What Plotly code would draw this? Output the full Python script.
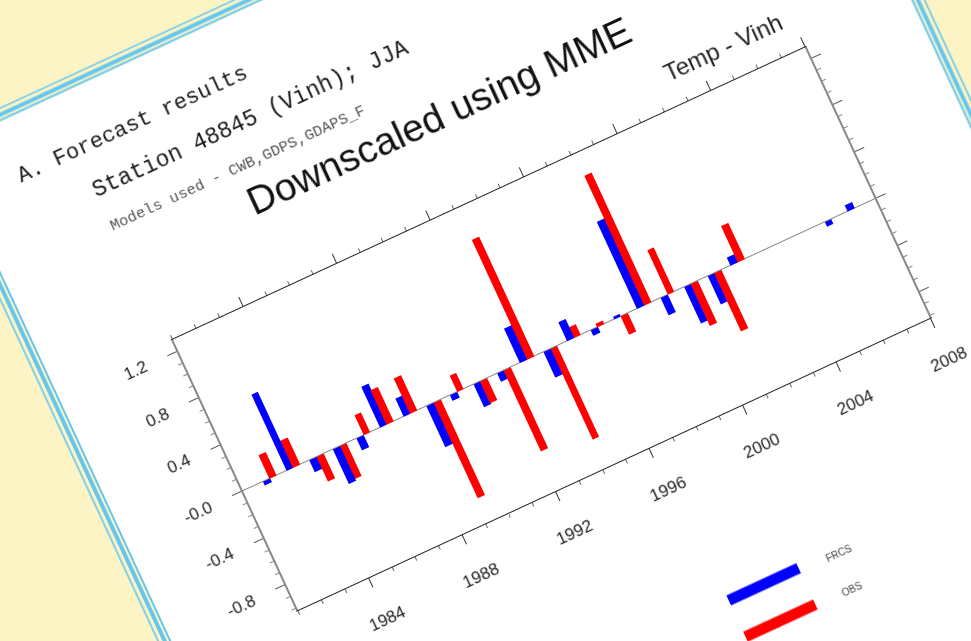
import plotly.graph_objects as go

# ---------------- data ----------------
pred_years = [1982, 1983, 1984, 1985, 1986, 1987, 1988, 1989, 1990, 1991, 1992,
              1993, 1994, 1995, 1996, 1997, 1998, 1999, 2000, 2001, 2002, 2006, 2007]
pred_vals = [-0.03, 0.65, -0.10, -0.30, -0.10, 0.35, 0.15, -0.35, -0.05, -0.20, -0.07,
             0.29, -0.22, 0.16, -0.05, 0.02, 0.74, -0.15, -0.31, -0.24, 0.07, -0.04, 0.05]
obs_years = [1982, 1983, 1984, 1985, 1986, 1987, 1988, 1989, 1990, 1991, 1992,
             1993, 1994, 1995, 1996, 1997, 1998, 1999, 2000, 2001, 2002]
obs_vals = [0.20, 0.23, -0.21, -0.28, 0.17, 0.29, 0.30, -0.82, 0.14, -0.19, -0.69,
            1.02, -0.78, 0.09, 0.03, -0.16, 1.11, 0.38, -0.36, -0.50, 0.31]
x_ticks = [1984, 1988, 1992, 1996, 2000, 2004, 2008]
y_ticks = [-0.8, -0.4, 0.0, 0.4, 0.8, 1.2]
y_ticktext = ["-0.8", "-0.4", "-0.0", "0.4", "0.8", "1.2"]
legend_names = ["FRCS", "OBS"]

# ---------------- geometry (unrotated page frame, px) ----------------
W, H = 1220, 1150
L, T = 310, 422
PW, PH = 696, 298
R = W - L - PW
B = H - T - PH
ANGLE = 24.8                    # page is turned counter-clockwise
SCREEN_X0, SCREEN_Y0 = 298.3, 610.0   # where the plot's bottom-left corner lands

YELLOW = "#fcf4c4"
SKY = "#66c6f0"
BLUE = "#0000ff"
RED = "#ff0000"


def px(u):
    return u / PW


def py(v):
    return -v / PH


fig = go.Figure()
fig.add_trace(go.Bar(x=pred_years, y=pred_vals, name=legend_names[0],
                     marker=dict(color=BLUE, line=dict(width=0)),
                     width=0.3, offset=-0.15, showlegend=False))
fig.add_trace(go.Bar(x=obs_years, y=obs_vals, name=legend_names[1],
                     marker=dict(color=RED, line=dict(width=0)),
                     width=0.3, offset=0.14, showlegend=False))

shapes = []
# the white slide page
PAGE_L, PAGE_R, PAGE_T, PAGE_B = -128.0, 812.6, -568.5, 700.0
shapes.append(dict(type="rect", xref="paper", yref="paper", layer="below",
                   x0=px(PAGE_L), x1=px(PAGE_R), y0=py(PAGE_B), y1=py(PAGE_T),
                   fillcolor="white", line=dict(width=0)))
for off, w in [(1.0, 2), (6.0, 4), (12.0, 1.6)]:
    shapes.append(dict(type="rect", xref="paper", yref="paper", layer="below",
                       x0=px(PAGE_L - off), x1=px(PAGE_R + off),
                       y0=py(PAGE_B + off), y1=py(PAGE_T - off),
                       fillcolor="rgba(0,0,0,0)", line=dict(color=SKY, width=w)))
# legend swatches
shapes.append(dict(type="line", xref="paper", yref="paper",
                   x0=px(395), x1=px(472), y0=py(172), y1=py(172),
                   line=dict(color=BLUE, width=11)))
shapes.append(dict(type="line", xref="paper", yref="paper",
                   x0=px(395), x1=px(472), y0=py(212), y1=py(212),
                   line=dict(color=RED, width=11)))

ann = []
def text(t, u, v_center, size, family, color, anchor="left"):
    ann.append(dict(text=t, xref="paper", yref="paper", x=px(u), y=py(v_center),
                    xanchor=anchor, yanchor="middle", showarrow=False,
                    font=dict(size=size, family=family, color=color)))

MONO = "Liberation Mono"
SANS = "Liberation Sans, Arial, sans-serif"
text("A. Forecast results", -74, -501.5 - 0.35 * 22, 22, MONO, "#1a1a1a")
text("Station 48845 (Vinh); JJA", -12.4, -456.5 - 0.35 * 23, 23, MONO, "#1a1a1a")
text("Models used - CWB,GDPS,GDAPS_F", -11.3, -420.9 - 0.35 * 15.5, 15.5, MONO, "#555")
text("Downscaled using MME", 335, -376 - 0.35 * 39, 39, SANS, "#111", anchor="center")
text("Temp - Vinh", 688, -324 - 0.35 * 24, 24, SANS, "#222", anchor="right")
text(legend_names[0], 499, 175, 10, SANS, "#444")
text(legend_names[1], 499, 213.5, 10, SANS, "#444")

fig.update_layout(
    width=W, height=H, autosize=False,
    margin=dict(l=L, r=R, t=T, b=B, pad=0),
    paper_bgcolor=YELLOW, plot_bgcolor="rgba(0,0,0,0)",
    barmode="overlay", bargap=0,
    font=dict(family=SANS, color="#222"),
    shapes=shapes, annotations=ann, showlegend=False,
)
fig.update_xaxes(range=[1981, 2008], tickvals=x_ticks, showgrid=False, zeroline=False,
                 showline=True, linecolor="#222", linewidth=1, mirror="ticks",
                 ticks="outside", ticklen=10, tickwidth=1, tickcolor="#333",
                 minor=dict(dtick=1, tick0=1981, ticks="outside", ticklen=4, tickcolor="#666"),
                 tickfont=dict(size=17, color="#222"), ticklabelstandoff=20)
fig.update_yaxes(range=[-1.02, 1.295], tickvals=y_ticks, ticktext=y_ticktext,
                 showgrid=False, zeroline=True, zerolinecolor="#888", zerolinewidth=1,
                 showline=True, linecolor="#888", linewidth=1.5, mirror="ticks",
                 ticks="outside", ticklen=10, tickwidth=1, tickcolor="#555",
                 minor=dict(dtick=0.1, tick0=0, ticks="outside", ticklen=4, tickcolor="#888"),
                 tickfont=dict(size=17, color="#222"), ticklabelstandoff=20)

left = SCREEN_X0 - L
top = SCREEN_Y0 - (T + PH)
post = f"""
var gd = document.getElementById('{{plot_id}}');
var de = document.documentElement;
de.style.margin = '0'; de.style.overflow = 'hidden'; de.style.background = '{YELLOW}';
document.body.style.margin = '0'; document.body.style.overflow = 'hidden';
document.body.style.background = '{YELLOW}';
gd.style.position = 'absolute';
gd.style.left = '{left}px'; gd.style.top = '{top}px';
gd.style.transformOrigin = '{L}px {T + PH}px';
gd.style.transform = 'rotate(-{ANGLE}deg)';
gd.style.filter = 'blur(0.4px)';
"""
fig.write_html("out.html", config={"displayModeBar": False}, post_script=post)
